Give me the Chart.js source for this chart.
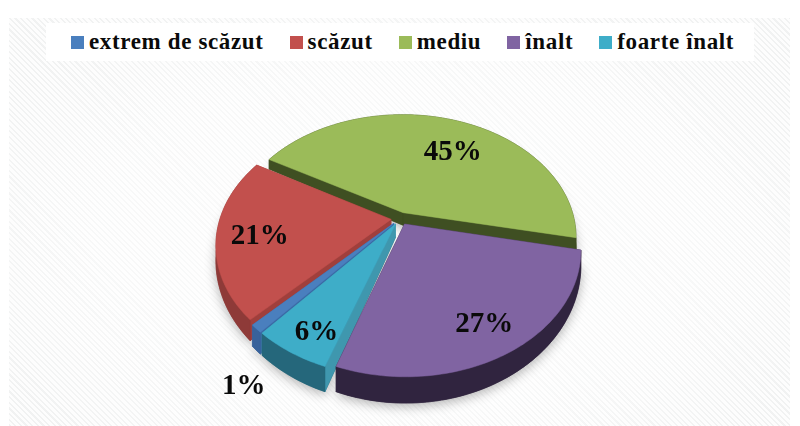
<!DOCTYPE html>
<html lang="ro">
<head>
<meta charset="utf-8">
<title>Chart</title>
<script src="https://cdn.jsdelivr.net/npm/chart.js@4"></script>
<style>
  html, body { margin: 0; padding: 0; background: #fff; }
  #wrap { position: relative; width: 800px; height: 426px; overflow: hidden; }
  #panel {
    position: absolute; left: 9px; top: 18px; width: 781px; height: 408px;
    background:
      radial-gradient(ellipse at 50% 55%, rgba(255,255,255,.75) 0%, rgba(255,255,255,.45) 55%, rgba(255,255,255,0) 85%),
      repeating-linear-gradient(45deg, #f1f2f2 0, #f1f2f2 1.5px, #fdfdfd 1.5px, #fdfdfd 4px);
  }
  #legendBox {
    position: absolute; left: 46px; top: 23px; width: 708px; height: 38px;
    background: #fff;
  }
  #legend {
    position: absolute; left: 71px; top: 24px; height: 36px;
    display: flex; align-items: center;
    font: bold 23px "Liberation Serif", serif; letter-spacing: 0.64px; color: #0a0a0a;
    white-space: nowrap;
  }
  #legend .item { display: flex; align-items: center; margin-right: 26px; }
  #legend .swatch { width: 13px; height: 13px; margin-right: 5px; }
  canvas { position: absolute; left: 0; top: 0; }
</style>
</head>
<body>
<div id="wrap">
  <div id="panel"></div>
  <div id="legendBox"></div>
  <div id="legend"></div>
  <canvas id="pie" width="800" height="426"></canvas>
</div>
<script>
  const categories = ["extrem de scăzut", "scăzut", "mediu", "înalt", "foarte înalt"];
  const percents = [1, 21, 45, 27, 6];

  const topColors = ["#4a7fbe", "#c2504d", "#9bbb59", "#8064a2", "#3eadc8"];
  const outerColors = ["#38629b", "#8e3a38", "#3f4f22", "#30243f", "#25677b"];
  const cutColors = ["#3b6aa6", "#a03f3c", "#3f4f22", "#30243f", "#3f97ae"];

  // label spot per slice, polar: radius fraction and degrees off the slice middle
  const labelRadius = [1.3, 0.81, 0.733, 0.85, 0.89];
  const labelTurn = [-9, -1.4, 7.5, 0, -2.3];

  const SQUASH = 0.7;
  const PERSPECTIVE = 0.2;
  const DEPTH = 13;

  const legend = document.getElementById("legend");
  categories.forEach((name, i) => {
    const item = document.createElement("span");
    item.className = "item";
    const swatch = document.createElement("span");
    swatch.className = "swatch";
    swatch.style.background = topColors[i];
    item.appendChild(swatch);
    item.appendChild(document.createTextNode(name));
    legend.appendChild(item);
  });

  function project(arc, X, Y) {
    const s = 1 / (1 - PERSPECTIVE * Y);
    return {
      x: arc.x + arc.outerRadius * X * s,
      y: arc.y + arc.outerRadius * SQUASH * Y * s,
      drop: DEPTH * s * s * s,
    };
  }

  function sliceOutline(arc) {
    const mid = (arc.startAngle + arc.endAngle) / 2;
    const off = arc.options.offset / arc.outerRadius;
    const ox = Math.cos(mid) * off;
    const oy = Math.sin(mid) * off;
    const rim = [];
    const steps = Math.max(3, Math.ceil((arc.endAngle - arc.startAngle) / 0.02));
    for (let i = 0; i <= steps; i++) {
      const a = arc.startAngle + ((arc.endAngle - arc.startAngle) * i) / steps;
      rim.push(project(arc, ox + Math.cos(a), oy + Math.sin(a)));
    }
    return { apex: project(arc, ox, oy), rim };
  }

  function fillPoly(ctx, points, color) {
    ctx.beginPath();
    points.forEach((p, i) => (i ? ctx.lineTo(p.x, p.y) : ctx.moveTo(p.x, p.y)));
    ctx.closePath();
    ctx.fillStyle = color;
    ctx.fill();
    ctx.strokeStyle = color;
    ctx.lineWidth = 0.5;
    ctx.stroke();
  }

  function lowered(p) {
    return { x: p.x, y: p.y + p.drop };
  }

  const pie3d = {
    id: "pie3d",
    beforeDatasetsDraw(chart) {
      const ctx = chart.ctx;
      const arcs = chart.getDatasetMeta(0).data;
      const order = arcs
        .map((arc, i) => ({ arc, i, shape: sliceOutline(arc) }))
        .sort((a, b) => {
          const ma = Math.sin((a.arc.startAngle + a.arc.endAngle) / 2);
          const mb = Math.sin((b.arc.startAngle + b.arc.endAngle) / 2);
          return ma - mb;
        });

      // soft shadow under the whole pie
      ctx.save();
      ctx.shadowColor = "rgba(0,0,0,0.3)";
      ctx.shadowBlur = 12;
      ctx.shadowOffsetY = 3;
      order.forEach(({ i, shape }) => {
        fillPoly(ctx, [shape.apex, ...shape.rim].map(lowered), outerColors[i]);
      });
      ctx.restore();

      order.forEach(({ i, shape }) => {
        const first = shape.rim[0];
        const last = shape.rim[shape.rim.length - 1];
        fillPoly(ctx, [shape.apex, first, lowered(first), lowered(shape.apex)], cutColors[i]);
        fillPoly(ctx, [shape.apex, last, lowered(last), lowered(shape.apex)], cutColors[i]);
        fillPoly(ctx, [...shape.rim, ...shape.rim.map(lowered).reverse()], outerColors[i]);
        fillPoly(ctx, [shape.apex, ...shape.rim], topColors[i]);
      });

      ctx.save();
      ctx.fillStyle = "#0a0a0a";
      ctx.font = 'bold 29px "Liberation Serif", serif';
      ctx.textAlign = "center";
      ctx.textBaseline = "middle";
      arcs.forEach((arc, i) => {
        const mid = (arc.startAngle + arc.endAngle) / 2 + (labelTurn[i] * Math.PI) / 180;
        const p = project(arc, Math.cos(mid) * labelRadius[i], Math.sin(mid) * labelRadius[i]);
        ctx.fillText(percents[i] + "%", p.x, p.y + 2);
      });
      ctx.restore();
      return false;
    },
  };

  new Chart(document.getElementById("pie"), {
    type: "pie",
    data: {
      labels: categories,
      datasets: [
        {
          data: percents,
          backgroundColor: topColors,
          borderWidth: 0,
          offset: 9,
        },
      ],
    },
    options: {
      responsive: false,
      animation: false,
      rotation: 220.6,
      layout: { padding: { left: 0, right: 0, top: 43, bottom: 32 } },
      plugins: {
        legend: { display: false },
        tooltip: { enabled: false },
      },
    },
    plugins: [pie3d],
  });
</script>
</body>
</html>
